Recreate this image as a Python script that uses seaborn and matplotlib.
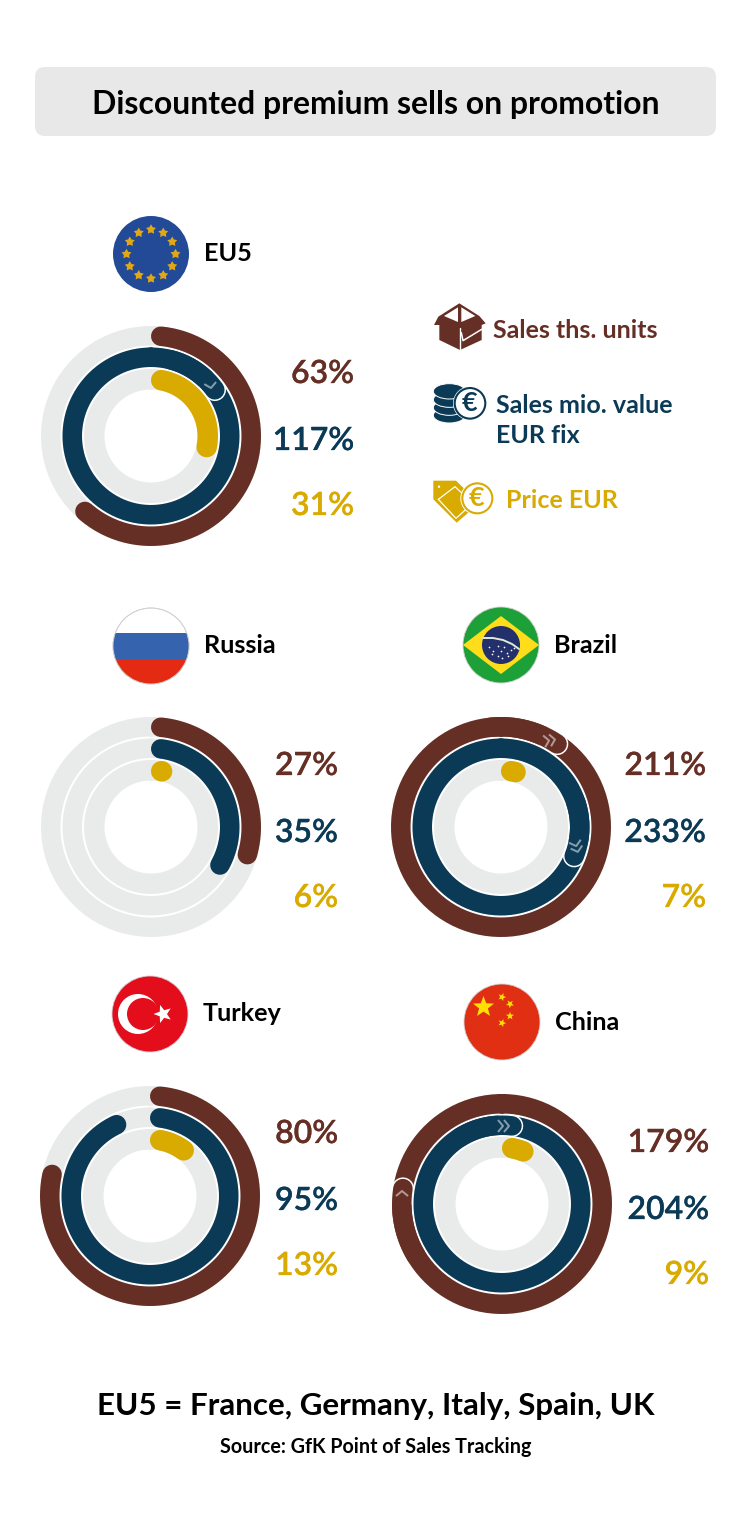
import numpy as np
import pandas as pd
import matplotlib.pyplot as plt
import matplotlib.patheffects as pe
from matplotlib.patches import Circle, FancyBboxPatch, Polygon, Rectangle, Ellipse
import seaborn as sns

# values
regions = ['EU5', 'Russia', 'Brazil', 'Turkey', 'China']
sales_units = [63, 27, 211, 80, 179]
sales_value = [117, 35, 233, 95, 204]
price_eur = [31, 6, 7, 13, 9]
# the Russia brown arc is drawn longer than its 27% label in the original
units_arc = [63, 31, 211, 80, 179]

BROWN = '#662F25'
NAVY = '#0B3A57'
GOLD = '#D9AB00'
TRACK = '#E9EBEA'

W, H = 751, 1526
PX = 0.72  # px to pt at dpi 100

sns.set_theme(style='white')
plt.rcParams['font.family'] = ['Lato', 'DejaVu Sans']

fig = plt.figure(figsize=(W / 100, H / 100), dpi=100, facecolor='white')
bg = fig.add_axes([0, 0, 1, 1])
bg.set_xlim(0, W)
bg.set_ylim(H, 0)
bg.axis('off')

# layout per region: ring centre, flag centre, name x/y, right edge of numbers, y of numbers
layout = {
    'EU5': ((151, 436), (151, 254), (204, 253.4), 354, (374, 441, 506)),
    'Russia': ((151, 827), (151, 646), (204, 645.4), 338, (766, 833, 898)),
    'Brazil': ((501, 827), (501, 645), (554, 645.4), 706, (766, 833, 898)),
    'Turkey': ((150, 1196), (150, 1014), (203, 1013.4), 338, (1134, 1201, 1266)),
    'China': ((502, 1204), (502, 1022), (555, 1022.4), 709, (1143, 1210, 1275)),
}

# chevrons on the overlapping tips: ring index -> (dx, dy, heading in degrees, count)
chevrons = {
    'EU5': {1: (60, -48, 170, 1)},
    'Brazil': {0: (51, -87, 80, 2), 1: (76, 22, 165, 2)},
    'China': {0: (-100, -13, 0, 1), 1: (4, -78, 90, 2)},
}

RINGS = [(100.25, 19.5, BROWN), (78.75, 19.5, NAVY), (56.75, 20.5, GOLD)]


def line(ax, theta, r, color, width, cap='round'):
    df = pd.DataFrame({'theta': theta, 'r': r})
    sns.lineplot(data=df, x='theta', y='r', ax=ax, color=color, linewidth=width * PX,
                 sort=False, estimator=None, solid_capstyle=cap, legend=False)


def arc(ax, a0, a1, r, color, width, cap='round'):
    t = np.radians(np.linspace(a0, a1, 200))
    line(ax, t, np.full_like(t, r), color, width, cap)


def chevron(ax, dx, dy, heading, n):
    # small arrow heads, given as pixel offsets from the ring centre
    h = np.radians(heading)
    fwd = np.array([np.sin(h), -np.cos(h)])
    side = np.array([np.cos(h), np.sin(h)])
    for i in range(n):
        mid = np.array([dx, dy]) + fwd * (i - (n - 1) / 2) * 6
        pts = np.array([mid - fwd * 5 - side * 6, mid, mid - fwd * 5 + side * 6])
        line(ax, np.arctan2(pts[:, 0], -pts[:, 1]), np.hypot(pts[:, 0], pts[:, 1]), '#FFFFFF80', 2, cap='butt')


def draw_rings(name, values):
    (cx, cy) = layout[name][0]
    R = 112
    ax = fig.add_axes([(cx - R) / W, 1 - (cy + R) / H, 2 * R / W, 2 * R / H], projection='polar')
    ax.set_facecolor('none')
    ax.set_theta_zero_location('N')
    ax.set_theta_direction(-1)
    for k, ((r, w, c), v) in enumerate(zip(RINGS, values)):
        arc(ax, 0, 360, r, TRACK, w)
        cap_deg = np.degrees((w / 2) / r)
        end = v * 3.6
        if v >= 100:
            arc(ax, 0, 360, r, c, w)
            tip = end % 360 - cap_deg
            arc(ax, tip - 6, tip, r, 'white', w + 3)
            arc(ax, tip - 40, tip, r, c, w)
            if k in chevrons.get(name, {}):
                chevron(ax, *chevrons[name][k])
        else:
            arc(ax, cap_deg, max(end - cap_deg, cap_deg + 0.5), r, c, w)
    ax.set_ylim(0, R)
    ax.axis('off')


def star(x, y, r, color, rot=0.0, z=5, inner=0.42):
    ang = np.radians(np.arange(10) * 36 - 90 + rot)
    rad = np.where(np.arange(10) % 2 == 0, r, r * inner)
    bg.add_patch(Polygon(np.c_[x + rad * np.cos(ang), y + rad * np.sin(ang)],
                         closed=True, fc=color, ec='none', zorder=z))


def flag_base(x, y, color, r=38):
    c = Circle((x, y), r, fc=color, ec='#D0D0D0', lw=0.6, zorder=3)
    bg.add_patch(c)
    return c


def flag_eu(x, y):
    bg.add_patch(Circle((x, y), 38, fc='#234A96', ec='none', zorder=3))
    for a in np.arange(12) * 30:
        star(x + 24.5 * np.sin(np.radians(a)), y - 24.5 * np.cos(np.radians(a)), 5.2, '#E0A816', inner=0.55)


def flag_ru(x, y):
    clip = flag_base(x, y, 'white')
    for top, col in [(y - 13, '#3563AD'), (y + 13, '#E42A12')]:
        p = Rectangle((x - 38, top), 76, 26, fc=col, ec='none', zorder=4)
        bg.add_patch(p)
        p.set_clip_path(clip)
    bg.add_patch(Circle((x, y), 38, fc='none', ec='#D0D0D0', lw=0.6, zorder=5))


def flag_br(x, y):
    flag_base(x, y, '#1EA038')
    bg.add_patch(Polygon([(x, y - 29), (x + 38, y), (x, y + 29), (x - 38, y)], fc='#FFDD1A', ec='none', zorder=4))
    bg.add_patch(Circle((x, y), 19, fc='#24306B', ec='none', zorder=5))
    band = np.array([(-18, -7), (-8, -7), (2, -5), (11, -1), (18, 4)])
    bg.plot(x + band[:, 0], y + band[:, 1], color='#DDEBD8', lw=1.4, zorder=6)
    dots = [(-12, 2), (-8, 6), (-3, 1), (0, 6), (3, 2), (6, 8), (10, 5), (-3, 11), (1, 13), (7, 11), (-9, 9), (13, 3)]
    bg.scatter([x + d[0] for d in dots], [y + d[1] for d in dots], s=1.5, color='white', linewidths=0, zorder=6)


def flag_tr(x, y):
    flag_base(x, y, '#E30D1C')
    bg.add_patch(Circle((x - 12, y), 20, fc='white', ec='none', zorder=4))
    bg.add_patch(Circle((x - 7, y), 16, fc='#E30D1C', ec='none', zorder=5))
    star(x + 13, y, 9.5, 'white', rot=-90, z=6)


def flag_cn(x, y):
    flag_base(x, y, '#E12F14')
    star(x - 18.5, y - 15, 11, '#FFE000')
    for dx, dy, rot in [(0, -25, 20), (8, -18, 40), (8, -6, 0), (0, 1, 20)]:
        star(x + dx, y + dy, 4.2, '#FFE000', rot=rot)


flags = {'EU5': flag_eu, 'Russia': flag_ru, 'Brazil': flag_br, 'Turkey': flag_tr, 'China': flag_cn}

# title box
bg.add_patch(FancyBboxPatch((45, 77), 661, 49, boxstyle='round,pad=10,rounding_size=10', fc='#E8E8E8', ec='none'))
bg.text(375.5, 104.6, 'Discounted premium sells on promotion', ha='center', va='center',
        fontsize=31.9 * PX, fontweight='bold', color='black')

for i, name in enumerate(regions):
    vals = (sales_units[i], sales_value[i], price_eur[i])
    draw_rings(name, (units_arc[i], sales_value[i], price_eur[i]))
    ring, flag, nm, right, ys = layout[name]
    flags[name](*flag)
    bg.text(nm[0], nm[1], name, ha='left', va='center', fontsize=25.3 * PX, fontweight='bold', color='black')
    for v, y, c in zip(vals, ys, (BROWN, NAVY, GOLD)):
        bg.text(right, y, f'{v}%', ha='right', va='center', fontsize=32 * PX, fontweight='semibold', color=c,
                path_effects=[pe.withStroke(linewidth=0.2, foreground=c)])


# legend icons, drawn in crop-relative coordinates
def ic(pts):
    return [(420 + a / 3, 290 + b / 3) for a, b in pts]


def poly(pts, color, z=4):
    bg.add_patch(Polygon(ic(pts), closed=True, fc=color, ec='none', zorder=z))


poly([(118, 40), (178, 78), (197, 100), (185, 105), (185, 150), (120, 180), (58, 150), (58, 105), (42, 105), (55, 80)], BROWN)
poly([(72, 78), (114, 52), (114, 96)], 'white', 5)
poly([(124, 52), (166, 78), (124, 96)], 'white', 5)
bg.plot(*zip(*ic([(120, 115), (120, 180)])), color='white', lw=1.0, zorder=6)
bg.plot(*zip(*ic([(124, 128), (129, 152), (185, 118)])), color='white', lw=1.1, zorder=6)
bg.text(493, 331, 'Sales ths. units', ha='left', va='center', fontsize=25 * PX, fontweight='bold', color=BROWN)

for yy in (376, 353, 329, 304):
    bg.add_patch(Ellipse(ic([(88, yy)])[0], 96 / 3, 46 / 3, fc=NAVY, ec='white', lw=0.7, zorder=4))
cc = ic([(150, 340)])[0]
bg.add_patch(Circle(cc, 17, fc='white', ec='none', zorder=5))
bg.add_patch(Circle(cc, 15.3, fc='white', ec=NAVY, lw=1.5, zorder=5))
bg.text(cc[0] - 0.5, cc[1], '€', ha='center', va='center', fontsize=27 * PX, fontweight='bold', color=NAVY, zorder=6)
bg.text(496, 405.5, 'Sales mio. value', ha='left', va='center', fontsize=25 * PX, fontweight='bold', color=NAVY)
bg.text(496, 435.5, 'EUR fix', ha='left', va='center', fontsize=25 * PX, fontweight='bold', color=NAVY)

poly([(40, 572), (108, 572), (178, 640), (110, 698), (40, 628)], GOLD)
bg.plot(*zip(*ic([(55, 628), (105, 590), (158, 640), (108, 685), (55, 628)])), color='white', lw=0.9, zorder=5)
bg.add_patch(Circle(ic([(57, 590)])[0], 1.2, fc='white', ec='none', zorder=5))
cc = ic([(172, 625)])[0]
bg.add_patch(Circle(cc, 17, fc='white', ec='none', zorder=6))
bg.add_patch(Circle(cc, 15, fc='white', ec=GOLD, lw=1.5, zorder=6))
bg.text(cc[0] - 0.5, cc[1], '€', ha='center', va='center', fontsize=27 * PX, fontweight='bold', color=GOLD, zorder=7)
bg.text(506, 500, 'Price EUR', ha='left', va='center', fontsize=25 * PX, fontweight='bold', color=GOLD)

# footer
bg.text(376, 1406, 'EU5 = France, Germany, Italy, Spain, UK', ha='center', va='center',
        fontsize=31.4 * PX, fontweight='bold', color='black')
bg.text(375.5, 1447, 'Source: GfK Point of Sales Tracking', ha='center', va='center',
        fontsize=19.8 * PX, fontweight='bold', color='black')

fig.savefig('out.png', dpi=100, facecolor='white')
